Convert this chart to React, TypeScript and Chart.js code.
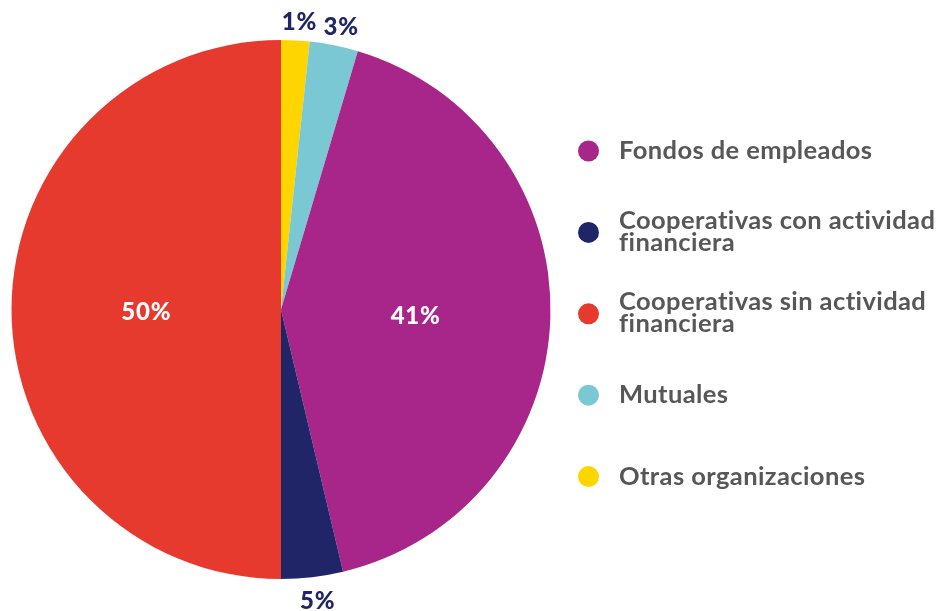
import React, { useEffect, useRef } from "react";
import { Chart, registerables } from "chart.js";

Chart.register(...registerables);

// Slices in drawing order (clockwise from 12 o'clock)
const categories = [
  "Otras organizaciones",
  "Mutuales",
  "Fondos de empleados",
  "Cooperativas con actividad financiera",
  "Cooperativas sin actividad financiera",
];
const shares = [1.7, 2.9, 41.7, 3.7, 50.0];
const shareLabels = ["1%", "3%", "41%", "5%", "50%"];
const colors = ["#FFD500", "#7AC8D3", "#A8258A", "#1F2566", "#E63A2F"];

// Legend order and line breaks
const legendOrder = [2, 3, 4, 1, 0];
const legendLines = [
  ["Otras organizaciones"],
  ["Mutuales"],
  ["Fondos de empleados"],
  ["Cooperativas con actividad", "financiera"],
  ["Cooperativas sin actividad", "financiera"],
];

const FONT = "Lato, 'Open Sans', sans-serif";

const labelPlugin = {
  id: "sliceLabels",
  afterDatasetsDraw(chart: any) {
    const ctx = chart.ctx;
    const meta = chart.getDatasetMeta(0);
    const fs = 24;
    ctx.save();
    ctx.font = `900 ${fs}px ${FONT}`;
    (ctx as any).letterSpacing = "0.8px";
    ctx.textAlign = "center";
    ctx.textBaseline = "alphabetic";
    meta.data.forEach((arc: any, i: number) => {
      const p = arc.getProps(["x", "y", "startAngle", "endAngle", "outerRadius"], true);
      const mid = (p.startAngle + p.endAngle) / 2;
      const big = shares[i] > 8;
      const d = big ? p.outerRadius * 0.5 : p.outerRadius + 21;
      ctx.fillStyle = big ? "#FFFFFF" : "#1F2566";
      ctx.fillText(
        shareLabels[i],
        p.x + Math.cos(mid) * d + (big ? 0 : 3),
        p.y + Math.sin(mid) * d + fs * 0.36 + 2
      );
    });
    ctx.restore();
  },
};

const legendPlugin = {
  id: "customLegend",
  afterDraw(chart: any) {
    const ctx = chart.ctx;
    ctx.save();
    const x0 = 588.5;
    const tx = 619;
    const yStart = 151;
    const step = 81.4;
    const lineH = 22;
    ctx.font = `700 25.5px ${FONT}`;
    (ctx as any).letterSpacing = "0.4px";
    ctx.textAlign = "left";
    ctx.textBaseline = "alphabetic";
    legendOrder.forEach((idx, k) => {
      const cy = yStart + k * step;
      ctx.fillStyle = colors[idx];
      ctx.beginPath();
      ctx.arc(x0, cy, 10.5, 0, Math.PI * 2);
      ctx.fill();
      const lines = legendLines[idx];
      ctx.fillStyle = "#575757";
      if (lines.length === 1) {
        ctx.fillText(lines[0], tx, cy + 8);
      } else {
        lines.forEach((ln, j) => ctx.fillText(ln, tx, cy - 3.5 + j * lineH));
      }
    });
    ctx.restore();
  },
};

export default function App() {
  const ref = useRef<HTMLCanvasElement>(null);
  useEffect(() => {
    document.body.style.margin = "0";
    const chart = new Chart(ref.current!, {
      type: "pie",
      data: {
        labels: categories,
        datasets: [
          {
            data: shares,
            backgroundColor: colors,
            borderWidth: 0,
          },
        ],
      },
      options: {
        animation: false,
        responsive: true,
        maintainAspectRatio: false,
        layout: { padding: { top: 40, bottom: 32, left: 11, right: 392 } },
        plugins: {
          legend: { display: false },
          tooltip: { enabled: false },
        },
      },
      plugins: [labelPlugin, legendPlugin],
    });
    return () => chart.destroy();
  }, []);
  return (
    <div style={{ width: 943, height: 611, position: "relative" }}>
      <canvas ref={ref} />
    </div>
  );
}
